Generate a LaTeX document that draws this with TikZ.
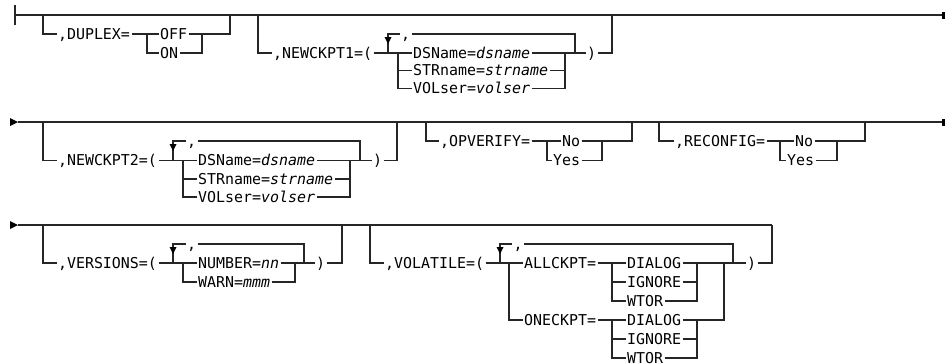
\documentclass[tikz,border=0pt]{standalone}
\usepackage{fontspec}
\setmainfont{DejaVu Sans Mono}
\begin{document}
\begin{tikzpicture}[x=1pt,y=-1pt,
  ln/.style={line width=1.1pt, draw=black!85},
  t/.style={anchor=west, inner xsep=1.5pt, inner ysep=0pt, outer sep=0pt,
    text height=10.8pt, text depth=0pt, font=\fontsize{14.95}{18}\selectfont},
  tip/.style={fill=black, draw=none}]
\useasboundingbox (0,0) rectangle (945,364);

% ---------- row 1 ----------
\draw[ln] (15,5) -- (15,25);
\draw[ln] (15,15) -- (942,15);
\fill[tip] (941.5,11.5) rectangle (945,18.5);
\node[t] (dup) at (56.5,34) {,DUPLEX=};
\node[t] (off) at (158.5,34) {OFF};
\node[t] (on) at (158.5,53) {ON};
\draw[ln] (43,15) |- (dup.west);
\draw[ln] (dup.east) -- (off.west);
\draw[ln] (147,34) |- (on.west);
\draw[ln] (off.east) -| (230,15);
\draw[ln] (on.east) -| (202,34);

\node[t] (n1) at (271.5,53) {,NEWCKPT1=(};
\node[t] (c1) at (399.5,34) {,};
\node[t] (ds1) at (411.5,53) {DSName=\textit{dsname}};
\node[t] (st1) at (411.5,70.5) {STRname=\textit{strname}};
\node[t] (vo1) at (411.5,88.5) {VOLser=\textit{volser}};
\node[t] (p1) at (585.5,53) {)};
\draw[ln] (258,15) |- (n1.west);
\draw[ln] (n1.east) -- (ds1.west);
\draw[ln] (398,53) |- (vo1.west);
\draw[ln] (398,70.5) -- (st1.west);
\draw[ln] (vo1.east) -| (565,53);
\draw[ln] (st1.east) -- (565,70.5);
\draw[ln] (ds1.east) -- (p1.west);
\draw[ln] (p1.east) -| (612,15);
\draw[ln] (388,53) |- (c1.west);
\draw[ln] (c1.east) -| (575,53);
\fill[tip] (384.5,37) -- (391.5,37) -- (388,44) -- cycle;

% ---------- row 2 ----------
\fill[tip] (10,118) -- (18,122) -- (10,126) -- cycle;
\draw[ln] (18,122) -- (942,122);
\fill[tip] (941.5,118.5) rectangle (945,125.5);
\node[t] (n2) at (56.5,160.5) {,NEWCKPT2=(};
\node[t] (c2) at (185.5,141) {,};
\node[t] (ds2) at (196.5,160.5) {DSName=\textit{dsname}};
\node[t] (st2) at (196.5,179) {STRname=\textit{strname}};
\node[t] (vo2) at (196.5,197) {VOLser=\textit{volser}};
\node[t] (p2) at (371.5,160.5) {)};
\draw[ln] (43,122) |- (n2.west);
\draw[ln] (n2.east) -- (ds2.west);
\draw[ln] (183,160.5) |- (vo2.west);
\draw[ln] (183,179) -- (st2.west);
\draw[ln] (vo2.east) -| (350,160.5);
\draw[ln] (st2.east) -- (350,179);
\draw[ln] (ds2.east) -- (p2.west);
\draw[ln] (p2.east) -| (397,122);
\draw[ln] (173,160.5) |- (c2.west);
\draw[ln] (c2.east) -| (360,160.5);
\fill[tip] (169.5,144) -- (176.5,144) -- (173,151) -- cycle;

\node[t] (opv) at (438.5,141) {,OPVERIFY=};
\node[t] (no1) at (560.5,141) {No};
\node[t] (yes1) at (551.5,160.5) {Yes};
\draw[ln] (426,122) |- (opv.west);
\draw[ln] (opv.east) -- (no1.west);
\draw[ln] (547,141) |- (yes1.west);
\draw[ln] (no1.east) -| (632,122);
\draw[ln] (yes1.east) -| (602,141);

\node[t] (rec) at (673.5,141) {,RECONFIG=};
\node[t] (no2) at (793.5,141) {No};
\node[t] (yes2) at (785.5,160.5) {Yes};
\draw[ln] (659,122) |- (rec.west);
\draw[ln] (rec.east) -- (no2.west);
\draw[ln] (780,141) |- (yes2.west);
\draw[ln] (no2.east) -| (865,122);
\draw[ln] (yes2.east) -| (837,141);

% ---------- row 3 ----------
\fill[tip] (10,221) -- (18,225) -- (10,229) -- cycle;
\draw[ln] (18,225) -- (772,225);
\node[t] (ver) at (56.5,263) {,VERSIONS=(};
\node[t] (c3) at (185.5,244) {,};
\node[t] (num) at (196.5,263) {NUMBER=\textit{nn}};
\node[t] (warn) at (196.5,282) {WARN=\textit{mmm}};
\node[t] (p3) at (314.5,263) {)};
\draw[ln] (43,225) |- (ver.west);
\draw[ln] (ver.east) -- (num.west);
\draw[ln] (183,263) |- (warn.west);
\draw[ln] (warn.east) -| (295,263);
\draw[ln] (num.east) -- (p3.west);
\draw[ln] (p3.east) -| (342,225);
\draw[ln] (173,263) |- (c3.west);
\draw[ln] (c3.east) -| (304,263);
\fill[tip] (169.5,247) -- (176.5,247) -- (173,254) -- cycle;

\node[t] (vol) at (383.5,263) {,VOLATILE=(};
\node[t] (c4) at (512,244) {,};
\node[t] (all) at (522.5,263) {ALLCKPT=};
\node[t] (one) at (522.5,320) {ONECKPT=};
\node[t] (d1) at (625.5,263) {DIALOG};
\node[t] (i1) at (625.5,282) {IGNORE};
\node[t] (w1) at (625.5,301) {WTOR};
\node[t] (d2) at (625.5,320) {DIALOG};
\node[t] (i2) at (625.5,339) {IGNORE};
\node[t] (w2) at (625.5,358) {WTOR};
\node[t] (p4) at (745.5,263) {)};
\draw[ln] (370,225) |- (vol.west);
\draw[ln] (vol.east) -- (all.west);
\draw[ln] (509,263) |- (one.west);
\draw[ln] (all.east) -- (d1.west);
\draw[ln] (612,263) |- (w1.west);
\draw[ln] (612,282) -- (i1.west);
\draw[ln] (w1.east) -| (697,263);
\draw[ln] (i1.east) -- (697,282);
\draw[ln] (d1.east) -- (p4.west);
\draw[ln] (p4.east) -| (772,225);
\draw[ln] (500,263) |- (c4.west);
\draw[ln] (c4.east) -| (733,263);
\fill[tip] (496.5,247) -- (503.5,247) -- (500,254) -- cycle;
\draw[ln] (one.east) -- (d2.west);
\draw[ln] (612,320) |- (w2.west);
\draw[ln] (612,339) -- (i2.west);
\draw[ln] (w2.east) -| (697,320);
\draw[ln] (i2.east) -- (697,339);
\draw[ln] (d2.east) -| (724,263);
\end{tikzpicture}
\end{document}
